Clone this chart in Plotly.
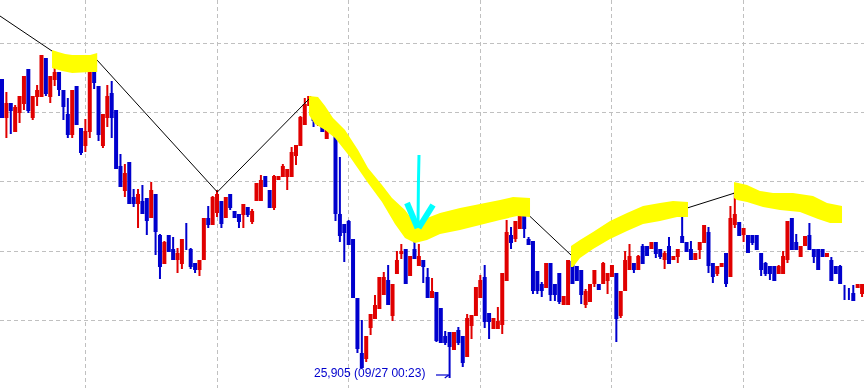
import plotly.graph_objects as go

# ---------------- data (candle index, prices) ----------------
opens = [26203,26166,26179,26152,26171,26180,26213,26166,26187,26187,
         26224,26187,26204,26210,26192,26168,26149,26196,26154,26138,
         26152,26217,26196,26138,26166,26189,26172,26116,26093,26120,
         26085,26080,26081,26084,26066,26088,26047,26020,26047,26033,
         26024,26020,26040,26033,26019,26014,26024,26064,26059,26071,
         26081,26066,26088,26071,26068,26069,26075,26062,26083,26083,
         26106,26092,26076,26104,26107,26107,26107,26128,26138,26159,
         26178,26182,26165,26168,26145,26155,26157,26068,26058,26061,
         26043,25984,25929,25925,25956,25965,25975,25989,26002,25968,
         26010,26030,26033,26008,26033,26018,26022,26005,25986,25990,
         25974,25946,25950,25934,25952,25946,25927,25958,25968,25986,
         26005,25969,25955,25955,25959,26003,26047,26045,26055,26071,
         26043,26041,26011,25998,25996,26019,25998,26009,25979,25979,
         26021,26016,26012,25979,25982,26000,25998,26000,26003,26007,
         26009,25968,25993,26014,26019,26014,26036,26036,26035,26040,
         26033,26024,26036,26024,26027,26046,26040,26033,26024,26034,
         26041,26050,26019,26010,26017,26029,26007,26059,26060,26049,
         26047,26047,26047,26029,26019,26016,26016,26010,26010,26024,
         26064,26040,26027,26038,26047,26033,26033,26033,26027,26022,
         26016,26016,25990,25990,25989,25996,25990]
highs = [26203,26191,26179,26178,26186,26206,26213,26186,26198,26227,
         26224,26206,26227,26210,26192,26185,26192,26196,26154,26164,
         26213,26226,26196,26168,26198,26202,26172,26129,26119,26120,
         26094,26094,26098,26084,26101,26088,26049,26042,26047,26046,
         26035,26043,26060,26035,26019,26022,26064,26077,26087,26093,
         26081,26085,26088,26071,26068,26078,26075,26074,26099,26108,
         26106,26092,26108,26106,26119,26113,26136,26137,26167,26185,
         26186,26182,26167,26168,26158,26160,26157,26126,26058,26063,
         26043,25984,25963,25946,25968,25988,26005,26011,26018,25998,
         26032,26039,26033,26026,26046,26039,26022,26015,26005,25990,
         25974,25952,25950,25950,25956,25946,25969,25967,25995,26008,
         26018,25969,25964,25976,26009,26063,26056,26061,26076,26076,
         26046,26041,26011,26001,26019,26019,25998,26009,25987,26022,
         26026,26016,26012,25994,25998,26012,25998,26021,26009,26018,
         26009,25991,26032,26039,26019,26028,26039,26036,26040,26040,
         26033,26032,26046,26026,26033,26074,26040,26042,26029,26040,
         26057,26056,26019,26016,26019,26029,26077,26091,26060,26054,
         26047,26047,26047,26029,26021,26016,26016,26018,26032,26061,
         26064,26049,26036,26046,26060,26033,26033,26033,26029,26026,
         26016,26018,25998,25995,25998,25998,25998]
lows = [26166,26145,26149,26152,26160,26173,26170,26163,26177,26187,
        26187,26180,26197,26187,26163,26145,26145,26159,26128,26131,
        26145,26194,26142,26135,26156,26145,26115,26097,26086,26080,
        26076,26055,26070,26048,26066,26028,26004,26020,26032,26024,
        26010,26014,26033,26014,26010,26007,26024,26055,26059,26066,
        26055,26066,26073,26066,26055,26055,26066,26059,26083,26083,
        26097,26076,26073,26104,26107,26093,26107,26118,26138,26159,
        26178,26156,26157,26152,26145,26155,26062,26041,26021,26039,
        25986,25930,25916,25921,25948,25965,25975,25989,25979,25962,
        26010,26024,26000,26008,26025,26017,26000,25986,25986,25941,
        25941,25938,25905,25934,25938,25916,25927,25944,25968,25986,
        25955,25944,25955,25955,25949,26003,26034,26041,26055,26045,
        26039,25989,25989,25986,25996,25982,25982,25979,25979,25979,
        26000,26003,25979,25975,25982,25996,25994,26000,25989,26007,
        25941,25965,25993,26014,26010,26014,26020,26028,26035,26025,
        26024,26014,26020,26024,26020,26041,26032,26024,26024,26024,
        26041,26010,26000,26007,26017,25996,26007,26055,26048,26041,
        26031,26038,26034,26007,26007,26003,26003,26010,26010,26020,
        26034,26034,26027,26038,26034,26020,26014,26027,26027,26003,
        26010,26000,25983,25983,25983,25996,25986]
closes = [26166,26179,26173,26175,26186,26206,26173,26186,26192,26227,
          26190,26206,26210,26194,26177,26149,26192,26159,26131,26151,
          26213,26201,26149,26168,26186,26166,26115,26097,26109,26080,
          26080,26088,26070,26063,26092,26052,26017,26040,26032,26024,
          26029,26043,26040,26017,26014,26022,26064,26059,26085,26088,
          26060,26085,26076,26066,26062,26078,26069,26071,26099,26102,
          26097,26076,26106,26106,26116,26113,26130,26137,26165,26178,
          26186,26163,26165,26152,26154,26159,26070,26048,26051,26039,
          25986,25935,25916,25946,25968,25977,26005,26005,25979,25998,
          26022,26031,26000,26026,26025,26026,26017,25986,25991,25943,
          25941,25941,25937,25950,25941,25921,25964,25967,25995,26002,
          25962,25962,25964,25961,26009,26050,26041,26061,26076,26055,
          26039,25993,25993,25993,26019,25989,25989,25982,25986,26022,
          26000,26003,25989,25991,25998,26012,25994,26019,26009,26017,
          25965,25991,26022,26026,26014,26026,26020,26028,26040,26030,
          26027,26029,26020,26026,26033,26041,26032,26024,26029,26040,
          26057,26018,26007,26016,26019,26000,26064,26068,26048,26054,
          26031,26041,26034,26014,26010,26010,26003,26016,26026,26061,
          26034,26034,26036,26046,26034,26027,26014,26027,26029,26003,
          26010,26000,25990,25990,25983,25998,25998]
candle_idx = list(range(len(opens)))

# zigzag / trend lines drawn on the chart (candle index, price); None splits segments
zz_idx = [-0.46, 11.4, None, 21.03, 49.07, 69.96, None, 118.05, 129.9, None, 154.7, 167.0]
zz_price = [26267, 26232, None, 26226, 26091, 26184, None, 26076, 26027, None, 26073, 26090]

# low label
low_text = "25,905 (09/27 00:23)"
low_idx, low_price = 102, 25905

# hand-drawn highlighter bands (candle index, price) outline
band1 = [(11.4,26233),(12.8,26231),(14.4,26229),(16.0,26228),(20.1,26228),(21.7,26230),
         (21.7,26211),(20.1,26211),(16.0,26210),(13.7,26212),(11.4,26215)]
band2 = [(69.96,26187),(72.02,26186),(73.62,26177),(75.43,26165),(78.17,26153),(81.13,26133),
         (83.41,26115),(86.60,26098),(88.88,26085),(91.84,26073),(93.89,26061),(95.71,26063),
         (99.82,26070),(104.38,26075),(108.93,26079),(113.49,26083),(116.45,26086),(120.33,26085),
         (120.33,26066),(117.37,26067),(113.49,26063),(108.93,26058),(104.38,26053),(99.82,26049),
         (96.85,26043),(94.12,26040),(91.84,26045),(89.56,26059),(86.60,26081),(83.41,26100),
         (79.31,26126),(75.89,26145),(73.62,26153),(71.33,26159),(69.96,26168)]
band3 = [(129.67,26037),(131.72,26043),(134.69,26051),(138.56,26062),(142.43,26070),(146.08,26077),
         (149.95,26080),(152.92,26082),(156.33,26081),
         (156.33,26066),(153.83,26066),(149.95,26062),(146.08,26059),(142.43,26052),(138.56,26044),
         (134.69,26034),(131.72,26025),(130.13,26016),(129.67,26016)]
band4 = [(166.82,26101),(169.78,26098),(172.74,26092),(175.71,26090),(180.26,26090),(184.82,26087),
         (188.01,26080),(191.43,26077),
         (191.43,26060),(188.70,26060),(185.96,26064),(181.86,26071),(177.30,26073),(173.43,26076),
         (169.78,26081),(167.50,26083),(166.82,26085)]
# cyan hand-drawn arrow strokes
arrow_shaft = [(95.03,26128),(94.90,26100),(94.80,26056)]
arrow_left = [(92.30,26080),(94.70,26055)]
arrow_right = [(98.22,26078),(94.95,26055)]

RED = "#e00000"
BLUE = "#0000cd"

fig = go.Figure()
fig.add_trace(go.Candlestick(
    x=candle_idx, open=opens, high=highs, low=lows, close=closes,
    increasing=dict(line=dict(color=RED, width=2), fillcolor=RED),
    decreasing=dict(line=dict(color=BLUE, width=2), fillcolor=BLUE),
    whiskerwidth=0, showlegend=False, hoverinfo="skip"))
fig.add_trace(go.Scatter(x=zz_idx, y=zz_price, mode="lines",
                         line=dict(color="black", width=1),
                         showlegend=False, hoverinfo="skip", connectgaps=False))


def poly(pts, close=True):
    s = "M " + " L ".join(f"{x},{y}" for x, y in pts)
    return s + (" Z" if close else "")


for b in (band1, band2, band3, band4):
    fig.add_shape(type="path", path=poly(b), xref="x", yref="y",
                  fillcolor="#ffff00", line=dict(width=0), layer="above")
fig.add_shape(type="path", path=poly(arrow_shaft, False), xref="x", yref="y",
              line=dict(color="#00ffff", width=3), layer="above")
for a in (arrow_left, arrow_right):
    fig.add_shape(type="path", path=poly(a, False), xref="x", yref="y",
                  line=dict(color="#00ffff", width=6), layer="above")

# little pointer next to the low label
fig.add_shape(type="line", x0=low_idx - 3.1, x1=low_idx - 0.2, y0=low_price + 3, y1=low_price + 3,
              xref="x", yref="y", line=dict(color=BLUE, width=1.2))
fig.add_shape(type="line", x0=low_idx - 0.2, x1=low_idx - 1.1, y0=low_price + 3, y1=low_price,
              xref="x", yref="y", line=dict(color=BLUE, width=1.2))

fig.add_annotation(x=low_idx - 31.4, y=low_price + 5, xref="x", yref="y",
                   text=low_text, showarrow=False, xanchor="left", yanchor="middle",
                   font=dict(family="Liberation Sans", size=12, color=BLUE))

grid_prices = [25962.7, 26031.95, 26101.2, 26170.45, 26239.7]
grid_idx = [19, 49, 79, 109, 139, 169]

fig.update_layout(
    width=864, height=388, margin=dict(l=0, r=0, t=0, b=0),
    paper_bgcolor="white", plot_bgcolor="white",
    boxgap=0.544, boxgroupgap=0,
    showlegend=False,
    xaxis=dict(range=[-0.456, 196.44], tickvals=grid_idx, showticklabels=False,
               showgrid=True, gridcolor="#c0c0c0", gridwidth=1, griddash="4px,3px",
               zeroline=False, showline=False, ticks="",
               rangeslider=dict(visible=False)),
    yaxis=dict(range=[25895, 26283], tickvals=grid_prices, showticklabels=False,
               showgrid=True, gridcolor="#c0c0c0", gridwidth=1, griddash="4px,3px",
               zeroline=False, showline=False, ticks=""),
)

post = """
var gd = document.getElementById('{plot_id}');
gd.querySelectorAll('.layer-above .shapelayer path').forEach(function(p){
  p.style.mixBlendMode = 'darken';
});
"""
fig.write_html("out.html", post_script=post)
